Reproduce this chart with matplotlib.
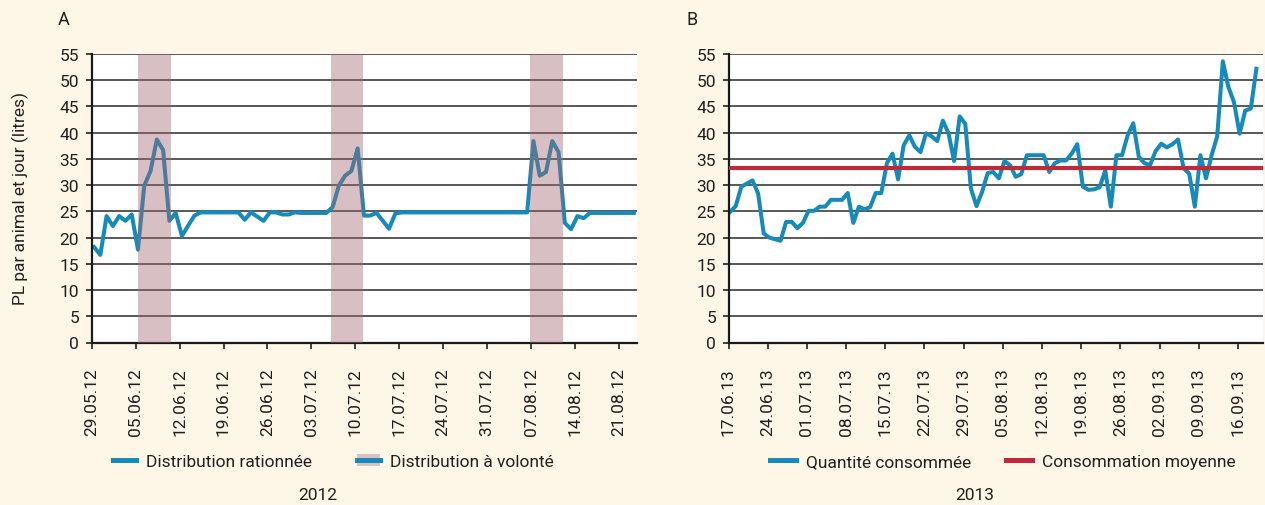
import numpy as np
import pandas as pd
import matplotlib
matplotlib.use("Agg")
import matplotlib.pyplot as plt
from matplotlib.patches import Patch
from matplotlib.lines import Line2D
from matplotlib.legend_handler import HandlerTuple
import matplotlib.dates as mdates

plt.rcParams['font.family'] = ['Roboto', 'DejaVu Sans']

# --- données A (2012) : une valeur par jour depuis le 29.05.12
start_a = "2012-05-29"
values_a = [18.2, 16.7, 24.1, 22.2, 24.1, 23.2, 24.4, 17.7, 29.9, 32.7,
            38.7, 36.7, 23.2, 24.7, 20.3, 22.3, 24.2, 24.8, 24.8, 24.8,
            24.8, 24.8, 24.8, 24.8, 23.4, 24.8, 24.0, 23.2, 24.8, 24.8,
            24.4, 24.4, 24.8, 24.7, 24.7, 24.7, 24.7, 24.7, 25.8, 29.9,
            31.8, 32.7, 37.0, 24.2, 24.2, 24.7, 23.2, 21.7, 24.6, 24.8,
            24.8, 24.8, 24.8, 24.8, 24.8, 24.8, 24.8, 24.8, 24.8, 24.8,
            24.8, 24.8, 24.8, 24.8, 24.8, 24.8, 24.8, 24.8, 24.8, 24.8,
            38.4, 31.8, 32.5, 38.4, 36.3, 22.8, 21.6, 24.1, 23.7, 24.7,
            24.7, 24.7, 24.7, 24.7, 24.7, 24.7, 24.7]
band_start = ["2012-06-05 10:00", "2012-07-06 02:00", "2012-08-06 20:00"]
band_end = ["2012-06-10 15:00", "2012-07-11 06:00", "2012-08-12 01:00"]
ticks_a = pd.date_range("2012-05-29", periods=13, freq="7D")
labels_a = ["Distribution rationnée", "Distribution à volonté"]

# --- données B (2013)
start_b = "2013-06-17"
values_b = [24.9, 26.0, 29.7, 30.3, 30.9, 28.4, 20.8, 20.0, 19.7, 19.4,
            23.0, 23.0, 21.8, 22.8, 25.1, 25.1, 25.9, 25.9, 27.2, 27.2,
            27.2, 28.5, 22.8, 25.9, 25.4, 25.8, 28.5, 28.5, 34.2, 36.0,
            31.1, 37.6, 39.5, 37.3, 36.3, 39.9, 39.3, 38.4, 42.3, 39.9,
            34.6, 43.1, 41.7, 29.4, 26.0, 28.7, 32.3, 32.5, 31.3, 34.6,
            33.8, 31.6, 32.1, 35.7, 35.7, 35.7, 35.7, 32.5, 34.2, 34.7,
            34.7, 36.0, 37.8, 29.7, 29.1, 29.2, 29.6, 32.8, 25.9, 35.7,
            35.7, 39.5, 41.8, 35.4, 34.2, 33.8, 36.5, 37.9, 37.2, 37.8,
            38.7, 33.2, 32.2, 25.9, 35.7, 31.3, 35.7, 39.3, 53.6, 48.7,
            45.8, 39.8, 44.2, 44.6, 52.2]
mean_b = 33.2
ticks_b = pd.date_range("2013-06-17", periods=14, freq="7D")
labels_b = ["Quantité consommée", "Consommation moyenne"]

bg = "#FEF7E8"
blue = "#168ABA"
pink = "#A16771"
pink_solid = "#D8C0C4"
red = "#BE2A3A"
txt = "#231F20"

dates_a = pd.date_range(start_a, periods=len(values_a), freq="D") + pd.Timedelta(hours=9)
dates_b = pd.date_range(start_b, periods=len(values_b), freq="D") + pd.Timedelta(hours=7)

W, H = 1265, 506
fig = plt.figure(figsize=(W / 100, H / 100), dpi=100, facecolor=bg)
y0, y1 = 343.5, 55
ax_a = fig.add_axes([91.7 / W, 1 - y0 / H, (637 - 91.7) / W, (y0 - y1) / H])
ax_b = fig.add_axes([728.5 / W, 1 - y0 / H, (1262.7 - 728.5) / W, (y0 - y1) / H])


def style(ax, ticks):
    ax.set_facecolor("white")
    ax.set_ylim(0, 55)
    ax.set_yticks(range(0, 56, 5))
    ax.yaxis.grid(True, color="#3C3C3C", lw=1.2)
    ax.set_axisbelow(True)
    for s in ["top", "right"]:
        ax.spines[s].set_visible(False)
    for s in ["left", "bottom"]:
        ax.spines[s].set_linewidth(1.6)
        ax.spines[s].set_color("#1A1A1A")
    ax.set_xticks(ticks)
    ax.xaxis.set_major_formatter(mdates.DateFormatter("%d.%m.%y"))
    ax.tick_params(axis="both", length=4, width=1.2, labelsize=12.5,
                   colors=txt, direction="out")
    ax.tick_params(axis="y", pad=5)
    ax.tick_params(axis="x", rotation=90, pad=14)


# A
ax_a.plot(dates_a, values_a, color=blue, lw=2.9, zorder=2)
for s, e in zip(band_start, band_end):
    ax_a.axvspan(pd.Timestamp(s), pd.Timestamp(e), color=pink, alpha=0.415, lw=0, zorder=3)
style(ax_a, ticks_a)
ax_a.set_xlim(pd.Timestamp("2012-05-29"), pd.Timestamp("2012-08-23 21:00"))

# B
ax_b.plot(dates_b, values_b, color=blue, lw=2.9, zorder=2)
ax_b.axhline(mean_b, color=red, lw=3.0, zorder=3)
style(ax_b, ticks_b)
ax_b.set_xlim(pd.Timestamp("2013-06-17"), pd.Timestamp("2013-09-20 10:00"))

# légendes
h_a = [Line2D([], [], color=blue, lw=3.6),
       (Patch(fc=pink_solid, lw=0), Line2D([], [], color=blue, lw=3.6))]
ax_a.legend(h_a, labels_a, handler_map={tuple: HandlerTuple(ndivide=1)},
            ncol=2, frameon=False, loc="center left",
            bbox_to_anchor=(113 / W, 1 - 462.7 / H), bbox_transform=fig.transFigure,
            fontsize=12.5, handlelength=1.3, handletextpad=0.6, columnspacing=2.6,
            borderpad=0, borderaxespad=0, labelcolor=txt)
h_b = [Line2D([], [], color=blue, lw=3.6), Line2D([], [], color=red, lw=3.6)]
ax_b.legend(h_b, labels_b, ncol=2, frameon=False, loc="center left",
            bbox_to_anchor=(769.5 / W, 1 - 462.7 / H), bbox_transform=fig.transFigure,
            fontsize=12.5, handlelength=1.5, handletextpad=0.6, columnspacing=2.0,
            borderpad=0, borderaxespad=0, labelcolor=txt)

# textes
fig.text(58 / W, 1 - 20 / H, "A", fontsize=13, color=txt, ha="left", va="center")
fig.text(686 / W, 1 - 20 / H, "B", fontsize=13, color=txt, ha="left", va="center")
fig.text(20 / W, 1 - 199 / H, "PL par animal et jour (litres)", rotation=90,
         fontsize=12.5, color=txt, ha="center", va="center")
fig.text(318 / W, 1 - 496 / H, "2012", fontsize=12.5, color=txt, ha="center", va="center")
fig.text(975 / W, 1 - 496 / H, "2013", fontsize=12.5, color=txt, ha="center", va="center")

fig.savefig("out.png", dpi=100, facecolor=bg)
